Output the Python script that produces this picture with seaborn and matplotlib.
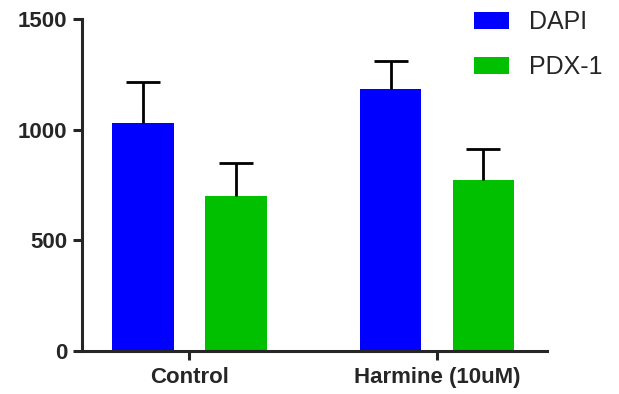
import numpy as np
import pandas as pd
import matplotlib
matplotlib.use("Agg")
import matplotlib.pyplot as plt
import seaborn as sns

groups = ["Control", "Harmine (10uM)"]
stains = ["DAPI", "PDX-1"]
dapi_mean = [1032, 1183]
dapi_err = [183, 128]
pdx_mean = [702, 773]
pdx_err = [148, 140]
colors = ["#0000FF", "#00C000"]

df = pd.DataFrame({
    "group": groups * 2,
    "stain": [stains[0]] * 2 + [stains[1]] * 2,
    "value": dapi_mean + pdx_mean,
    "err": dapi_err + pdx_err,
})

sns.set_style("ticks")
plt.rcParams["font.family"] = ["Liberation Sans", "DejaVu Sans"]

fig = plt.figure(figsize=(6.19, 3.94), dpi=100)
ax = fig.add_axes([0.132, 0.110, 0.751, 0.841])

sns.barplot(data=df, x="group", y="value", hue="stain", palette=colors,
            width=0.75, gap=0.336, errorbar=None, saturation=1,
            edgecolor="none", ax=ax)

# upward-only error bars at each bar centre
for bars, (name, sub) in zip(ax.containers, df.groupby("stain", sort=False)):
    xs = [b.get_x() + b.get_width() / 2 for b in bars]
    eb = ax.errorbar(xs, sub["value"], yerr=[np.zeros(len(sub)), sub["err"]],
                     fmt="none", ecolor="black", elinewidth=2, capsize=12,
                     capthick=2, zorder=3)
    eb[1][0].set_visible(False)

ax.set_ylim(0, 1500)
ax.set_xlim(-0.435, 1.443)
ax.set_yticks([0, 500, 1000, 1500])
ax.set_xlabel("")
ax.set_ylabel("")
sns.despine(ax=ax)
for s in ["left", "bottom"]:
    ax.spines[s].set_linewidth(2.2)
ax.tick_params(width=2.2, length=6.5, labelsize=16, pad=4)
ax.tick_params(axis="x", pad=5)
for lab in ax.get_xticklabels() + ax.get_yticklabels():
    lab.set_fontweight("bold")

leg = ax.legend(loc="upper left", bbox_to_anchor=(474 / 619, 1 - 10 / 394),
                bbox_transform=fig.transFigure, frameon=False, fontsize=18,
                handlelength=1.4, handleheight=0.7, handletextpad=0.8,
                labelspacing=0.85, borderpad=0, borderaxespad=0)

fig.savefig("out.png", dpi=100)
